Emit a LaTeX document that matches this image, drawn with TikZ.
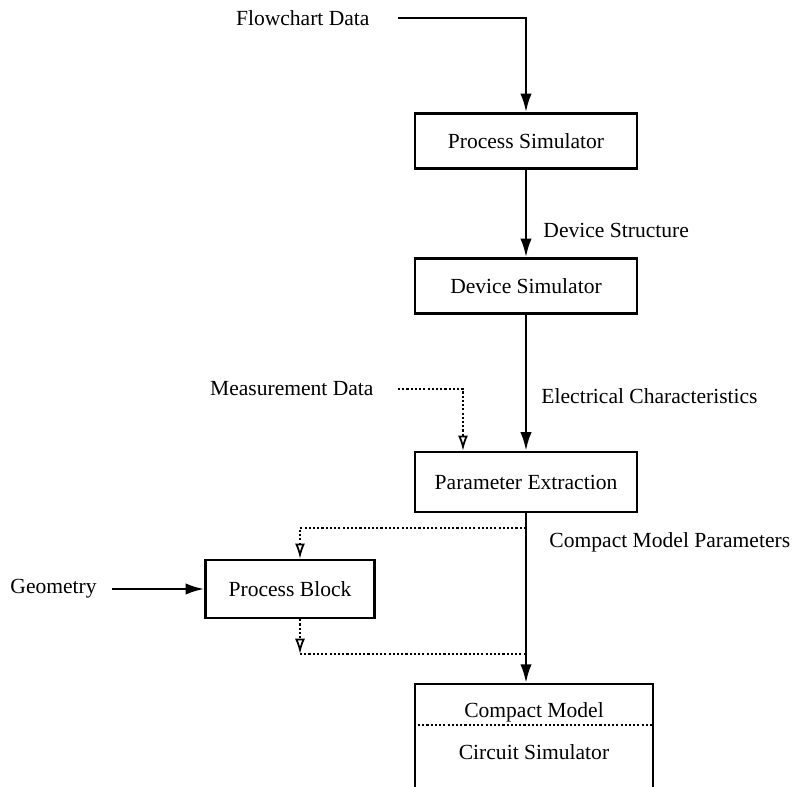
\documentclass[tikz,border=0pt]{standalone}
\usepackage{fontspec}
\setmainfont{Liberation Serif}
\usetikzlibrary{arrows.meta}

\begin{document}
\begin{tikzpicture}[x=0.15mm, y=-0.15mm, font=\fontsize{9.2}{11}\selectfont,
  blk/.style={draw, line width=1pt, minimum width=33.3mm, minimum height=8.25mm},
  lbl/.style={inner sep=0pt},
  flow/.style={line width=1.1pt, -{Latex[length=2.8mm, width=1.7mm]}},
  dots/.style={line width=0.75pt, dash pattern=on 0.9pt off 0.9pt},
  dotarrow/.style={dots, -{Latex[open, length=2.3mm, width=1.5mm]}}]
\useasboundingbox (0,0) rectangle (798,786);
\clip (0,0) rectangle (798,786);
% blocks
\node[blk] (psim) at (526,141) {Process Simulator};
\node[blk] (dsim) at (526,286) {Device Simulator};
\node[blk, minimum height=9mm] (pext) at (526,482) {Parameter Extraction};
\node[blk, minimum width=25.35mm, minimum height=8.7mm] (pblock) at (290,589) {Process Block};
\node[draw, line width=1pt, minimum width=35.7mm, minimum height=18mm, anchor=north] (cbox) at (534,683) {};
\node (cmodel) at (534,712) {Compact Model};
\node (csim) at (534,752) {Circuit Simulator};
\draw[dots] (cbox.west |- 0,725) -- (cbox.east |- 0,725);
% inputs and labels
\node[lbl, anchor=east] (fdata) at (370,18) {Flowchart Data};
\node[lbl, anchor=east] (mdata) at (374,389) {Measurement Data};
\node[lbl, anchor=west] (geo) at (10,589) {Geometry};
\node[lbl, anchor=west] (dstruct) at (543,230) {Device Structure};
\node[lbl, anchor=west] (echar) at (541,396) {Electrical Characteristics};
\node[lbl, anchor=west] (cparam) at (549,542) {Compact Model Parameters};
% connectors
\draw[flow, shorten <=4.2mm] (fdata.east) -| (psim.north);
\draw[flow] (psim) -- (dsim);
\draw[flow] (dsim) -- (pext);
\draw[dotarrow, shorten <=3.6mm] (mdata.east) -| ([xshift=-9.45mm]pext.north);
\draw[flow] (pext.south) -- (pext.south |- cbox.north);
\draw[flow, shorten <=2.25mm] (geo.east) -- (pblock.west);
\coordinate (tapA) at ([yshift=-2.25mm]pext.south);
\coordinate (tapB) at (526,654);
\coordinate (corner) at ([xshift=1.5mm]pblock.south |- tapB);
\draw[dotarrow] (tapA) -| ([xshift=1.5mm]pblock.north);
\draw[dotarrow] ([xshift=1.5mm]pblock.south) -- (corner);
\draw[dots] (corner) -- (tapB);
\end{tikzpicture}
\end{document}
